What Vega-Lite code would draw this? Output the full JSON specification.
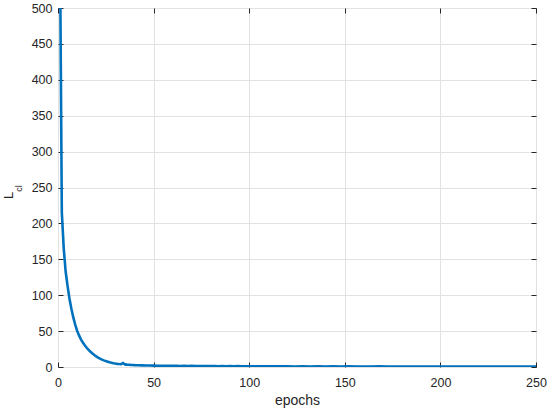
{
  "$schema": "https://vega.github.io/schema/vega-lite/v6.json",
  "width": 478,
  "height": 359,
  "autosize": {"type": "none"},
  "padding": {"left": 58, "top": 8, "right": 14, "bottom": 45},
  "background": "white",
  "config": {
    "font": "Liberation Sans",
    "view": {"stroke": "#262626", "strokeWidth": 1},
    "axis": {
      "domain": false,
      "labelFlush": false,
      "labelOverlap": false,
      "tickColor": "#262626",
      "tickWidth": 1,
      "labelColor": "#262626",
      "labelFont": "Liberation Sans",
      "labelFontSize": 12.5,
      "titleFont": "Liberation Sans",
      "titleColor": "#262626",
      "titleFontWeight": "normal",
      "gridColor": "#e2e2e2",
      "gridWidth": 1
    }
  },
  "data": {
    "values": [
      {"epoch": 1, "loss": 600}, {"epoch": 2, "loss": 215}, {"epoch": 3, "loss": 165},
      {"epoch": 4, "loss": 133}, {"epoch": 5, "loss": 113}, {"epoch": 6, "loss": 95},
      {"epoch": 7, "loss": 81}, {"epoch": 8, "loss": 69}, {"epoch": 9, "loss": 59},
      {"epoch": 10, "loss": 50.5}, {"epoch": 11, "loss": 44}, {"epoch": 12, "loss": 38.5},
      {"epoch": 13, "loss": 34}, {"epoch": 14, "loss": 30.2}, {"epoch": 15, "loss": 26.8},
      {"epoch": 16, "loss": 23.8}, {"epoch": 17, "loss": 21.2}, {"epoch": 18, "loss": 18.8},
      {"epoch": 19, "loss": 16.7}, {"epoch": 20, "loss": 14.8}, {"epoch": 21, "loss": 13.1},
      {"epoch": 22, "loss": 11.6}, {"epoch": 23, "loss": 10.3}, {"epoch": 24, "loss": 9.2},
      {"epoch": 25, "loss": 8.2}, {"epoch": 26, "loss": 7.4}, {"epoch": 27, "loss": 6.6},
      {"epoch": 28, "loss": 5.9}, {"epoch": 29, "loss": 5.3}, {"epoch": 30, "loss": 4.8},
      {"epoch": 31, "loss": 4.4}, {"epoch": 32, "loss": 4.1}, {"epoch": 33, "loss": 3.9},
      {"epoch": 34, "loss": 5.6}, {"epoch": 35, "loss": 3.6}, {"epoch": 36, "loss": 3.3},
      {"epoch": 37, "loss": 3.1}, {"epoch": 38, "loss": 2.9}, {"epoch": 39, "loss": 2.8},
      {"epoch": 40, "loss": 2.6}, {"epoch": 42, "loss": 2.4}, {"epoch": 44, "loss": 2.3},
      {"epoch": 46, "loss": 2.1}, {"epoch": 48, "loss": 2.0}, {"epoch": 50, "loss": 1.9},
      {"epoch": 52, "loss": 1.7}, {"epoch": 54, "loss": 1.8}, {"epoch": 56, "loss": 1.6},
      {"epoch": 58, "loss": 1.7}, {"epoch": 60, "loss": 1.5}, {"epoch": 62, "loss": 1.6},
      {"epoch": 64, "loss": 1.4}, {"epoch": 66, "loss": 1.5}, {"epoch": 68, "loss": 1.3},
      {"epoch": 70, "loss": 1.5}, {"epoch": 72, "loss": 1.3}, {"epoch": 74, "loss": 1.4},
      {"epoch": 76, "loss": 1.2}, {"epoch": 78, "loss": 1.4}, {"epoch": 80, "loss": 1.2},
      {"epoch": 82, "loss": 1.3}, {"epoch": 84, "loss": 1.1}, {"epoch": 86, "loss": 1.3},
      {"epoch": 88, "loss": 1.1}, {"epoch": 90, "loss": 1.2}, {"epoch": 92, "loss": 1.0},
      {"epoch": 94, "loss": 1.2}, {"epoch": 96, "loss": 1.0}, {"epoch": 98, "loss": 1.1},
      {"epoch": 100, "loss": 1.0}, {"epoch": 104, "loss": 1.1}, {"epoch": 108, "loss": 0.9},
      {"epoch": 112, "loss": 1.0}, {"epoch": 116, "loss": 0.9}, {"epoch": 120, "loss": 1.0},
      {"epoch": 124, "loss": 0.8}, {"epoch": 128, "loss": 0.9}, {"epoch": 132, "loss": 0.8},
      {"epoch": 136, "loss": 1.0}, {"epoch": 140, "loss": 0.8}, {"epoch": 144, "loss": 0.9},
      {"epoch": 148, "loss": 0.8}, {"epoch": 152, "loss": 0.9}, {"epoch": 156, "loss": 0.7},
      {"epoch": 160, "loss": 0.8}, {"epoch": 164, "loss": 0.7}, {"epoch": 168, "loss": 0.9},
      {"epoch": 172, "loss": 0.7}, {"epoch": 176, "loss": 0.8}, {"epoch": 180, "loss": 0.7},
      {"epoch": 184, "loss": 0.8}, {"epoch": 188, "loss": 0.6}, {"epoch": 192, "loss": 0.8},
      {"epoch": 196, "loss": 0.7}, {"epoch": 200, "loss": 0.7}, {"epoch": 204, "loss": 0.6},
      {"epoch": 208, "loss": 0.8}, {"epoch": 212, "loss": 0.6}, {"epoch": 216, "loss": 0.7},
      {"epoch": 220, "loss": 0.6}, {"epoch": 224, "loss": 0.7}, {"epoch": 228, "loss": 0.6},
      {"epoch": 232, "loss": 0.7}, {"epoch": 236, "loss": 0.5}, {"epoch": 240, "loss": 0.7},
      {"epoch": 244, "loss": 0.6}, {"epoch": 248, "loss": 0.6}, {"epoch": 250, "loss": 0.6}
    ]
  },
  "layer": [
    {
      "mark": {"type": "line", "color": "#0072BD", "strokeWidth": 2.6, "clip": true},
      "encoding": {
        "x": {
          "field": "epoch", "type": "quantitative",
          "scale": {"domain": [0, 250], "nice": false},
          "axis": {
            "orient": "bottom", "values": [0, 50, 100, 150, 200, 250],
            "grid": true, "tickSize": -5, "labelPadding": 14,
            "title": "epochs", "titleFontSize": 14, "titlePadding": 5
          }
        },
        "y": {
          "field": "loss", "type": "quantitative",
          "scale": {"domain": [0, 500], "nice": false},
          "axis": {
            "orient": "left", "values": [0, 50, 100, 150, 200, 250, 300, 350, 400, 450, 500],
            "grid": true, "tickSize": -5, "labelPadding": 11,
            "title": "L", "titleFontSize": 13, "titleAngle": -90,
            "titleBaseline": "alphabetic", "titleX": -46, "titleY": 187
          }
        }
      }
    },
    {
      "mark": {"type": "line", "strokeOpacity": 0},
      "encoding": {
        "x": {
          "field": "epoch", "type": "quantitative",
          "scale": {"domain": [0, 250], "nice": false},
          "axis": {
            "orient": "top", "values": [0, 50, 100, 150, 200, 250],
            "grid": false, "labels": false, "title": null, "tickSize": -5
          }
        },
        "y": {
          "field": "loss", "type": "quantitative",
          "scale": {"domain": [0, 500], "nice": false},
          "axis": {
            "orient": "right", "values": [0, 50, 100, 150, 200, 250, 300, 350, 400, 450, 500],
            "grid": false, "labels": false, "title": null, "tickSize": -5
          }
        }
      }
    },
    {
      "mark": {"type": "line", "strokeOpacity": 0},
      "encoding": {
        "y": {
          "field": "loss", "type": "quantitative",
          "scale": {"domain": [0, 500], "nice": false},
          "axis": {
            "orient": "left", "grid": false, "labels": false, "ticks": false,
            "title": "cl", "titleFontSize": 9, "titleAngle": -90,
            "titleBaseline": "alphabetic", "titleX": -37, "titleY": 180
          }
        }
      }
    }
  ],
  "resolve": {"axis": {"x": "independent", "y": "independent"}}
}
